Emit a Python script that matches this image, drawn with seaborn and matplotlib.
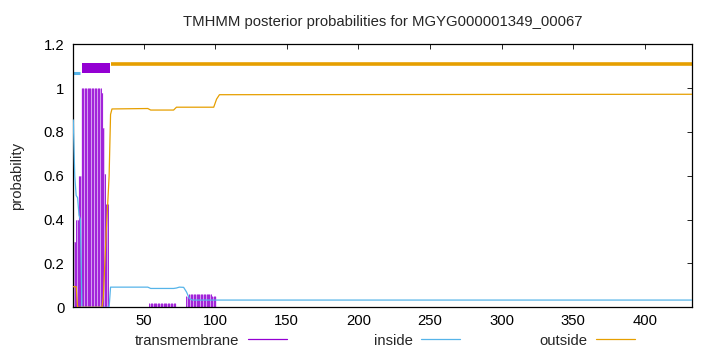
import matplotlib
matplotlib.use("Agg")
import matplotlib.pyplot as plt
from matplotlib.lines import Line2D
from matplotlib.ticker import FormatStrFormatter
import seaborn as sns
import numpy as np

# sequence length and per-position posterior probabilities
seq_len = 433

# transmembrane posterior as runs: (first residue, last residue, probability)
tm_runs = [
    (1, 2, 0.30), (3, 4, 0.40), (5, 6, 0.60), (7, 20, 1.00), (21, 21, 0.98),
    (22, 22, 0.82), (23, 23, 0.61), (24, 25, 0.47), (26, 53, 0.0),
    (54, 72, 0.018), (73, 79, 0.0), (80, 81, 0.05), (82, 97, 0.06),
    (98, 100, 0.05), (101, 433, 0.0),
]

inside_x = [1, 2, 3, 4, 5, 6, 7, 26, 27, 53, 55, 71, 73, 75, 78, 80, 82, 84, 433]
inside_y = [0.855, 0.60, 0.51, 0.50, 0.42, 0.40, 0.0, 0.0, 0.092, 0.092, 0.086,
            0.086, 0.088, 0.092, 0.091, 0.07, 0.04, 0.033, 0.033]

outside_x = [1, 3, 4, 21, 22, 23, 24, 25, 26, 27, 28, 53, 55, 71, 73, 99, 101, 103, 433]
outside_y = [0.094, 0.094, 0.0, 0.0, 0.05, 0.20, 0.35, 0.47, 0.60, 0.88, 0.905,
             0.907, 0.90, 0.90, 0.913, 0.913, 0.95, 0.97, 0.972]

# predicted topology bars drawn above the curves
topo_inside = (1, 6)
topo_tm = (7, 26.5)
topo_outside = (27, 433)

title = "TMHMM posterior probabilities for MGYG000001349_00067"

purple = "#9400D3"
light_purple = "#D49CF0"
blue = "#56B4E9"
orange = "#E69F00"

sns.set_theme(style="white")
plt.rcParams["font.family"] = ["Liberation Sans", "DejaVu Sans"]
fs = 10.7

fig = plt.figure(figsize=(7.2, 3.52), dpi=100)
ax = fig.add_axes([73.3 / 720, 1 - 307.3 / 352, 619 / 720, 263 / 352])

# expand the runs to one value per residue
residues = np.concatenate([np.arange(a, b + 1) for a, b, _ in tm_runs])
tm_vals = np.concatenate([np.full(b - a + 1, v) for a, b, v in tm_runs])

# impulses: light fill between the dark per-residue strokes
ax.fill_between(residues, 0, tm_vals, step="mid", color=light_purple, lw=0, zorder=1)
ax.vlines(residues, 0, tm_vals, color=purple, lw=0.55, zorder=2)
sns.lineplot(x=inside_x, y=inside_y, color=blue, lw=0.9, ax=ax,
             estimator=None, sort=False, zorder=3)
sns.lineplot(x=outside_x, y=outside_y, color=orange, lw=0.9, ax=ax,
             estimator=None, sort=False, zorder=4)

ax.plot(topo_inside, [1.07, 1.07], color=blue, lw=2.2, solid_capstyle="butt")
ax.plot(topo_tm, [1.09, 1.09], color=purple, lw=7.2, solid_capstyle="butt")
ax.plot(topo_outside, [1.11, 1.11], color=orange, lw=2.6, solid_capstyle="butt")

ax.set_xlim(1, seq_len)
ax.set_ylim(0, 1.2)
ax.set_xticks(np.arange(50, 401, 50))
ax.set_yticks([0, 0.2, 0.4, 0.6, 0.8, 1.0, 1.2])
ax.yaxis.set_major_formatter(FormatStrFormatter("%g"))
ax.tick_params(direction="in", length=3.6, width=0.6, top=True, right=True,
               labelsize=fs, colors="black")
ax.tick_params(axis="x", pad=5)
ax.tick_params(axis="y", pad=6.5)
for sp in ax.spines.values():
    sp.set_color("black")
    sp.set_linewidth(0.9)

ax.set_title(title, fontsize=fs, pad=13.4)
ax.set_ylabel("probability", fontsize=fs)
ax.yaxis.set_label_coords(-0.08, 0.5)
ax.set_xlabel("")

# key below the plot: text first, then the line sample
for label, col, xend in [("transmembrane", purple, 286.7),
                         ("inside", blue, 460),
                         ("outside", orange, 635)]:
    fig.legend(handles=[Line2D([], [], color=col, lw=0.9)], labels=[label],
               loc="center right", bbox_to_anchor=(xend / 720, 1 - 340.7 / 352),
               markerfirst=False, frameon=False, borderpad=0, borderaxespad=0,
               handlelength=2.6, handletextpad=0.6, fontsize=fs)

fig.savefig("out.png", dpi=100)
